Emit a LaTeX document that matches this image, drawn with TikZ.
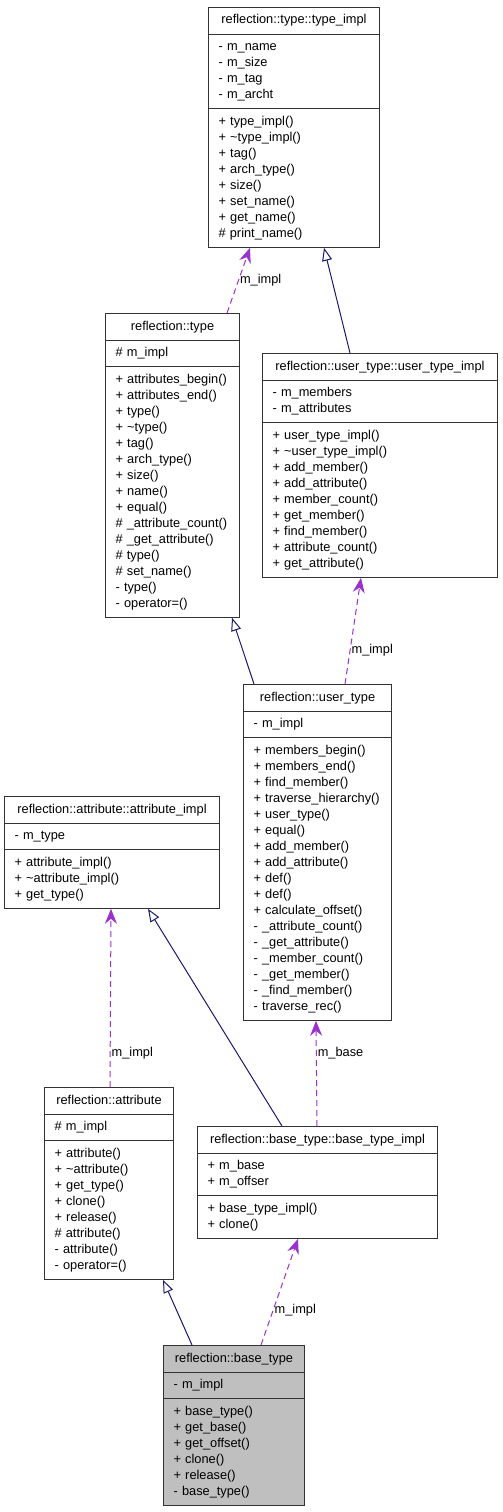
\documentclass[tikz,border=0pt]{standalone}
\usepackage{fontspec}
\setmainfont{Liberation Sans}
\usetikzlibrary{arrows.meta,shapes.multipart}
\definecolor{edgenavy}{HTML}{191970}
\definecolor{edgeorchid}{HTML}{9A32CD}
\definecolor{focusgray}{HTML}{BFBFBF}
\newcommand{\umlfont}{\fontsize{12.8}{16}\selectfont\hyphenpenalty=10000\relax}
\newcommand{\cpart}[1]{\strut#1\strut}
\newcommand{\ctitle}[1]{\strut\makebox[\hsize][c]{#1}\strut}

\begin{document}
\begin{tikzpicture}[x=1pt,y=-1pt,font=\umlfont,
  cls/.style={rectangle split,rectangle split parts=3,draw=black!80,line width=1pt,fill=white,
    inner xsep=10pt,inner ysep=4.8pt,align=left,anchor=north west},
  focus/.style={cls,fill=focusgray},
  inh/.style={draw=edgenavy,line width=1pt,-{Triangle[open,length=13pt,width=10pt,fill=white]}},
  coll/.style={draw=edgeorchid,line width=1pt,dash pattern=on 6pt off 4pt,-{Stealth[length=15pt,width=12pt,inset=5pt]}},
  lbl/.style={anchor=west,inner sep=1pt}]
\useasboundingbox (0,0) rectangle (503,1512);
\node[cls,text width=151pt] (tyimpl) at (208,7) {\ctitle{reflection::type::type\_impl}
  \nodepart{two}\cpart{- m\_name\\- m\_size\\- m\_tag\\- m\_archt}
  \nodepart{three}\cpart{+ type\_impl()\\+ \textasciitilde type\_impl()\\+ tag()\\+ arch\_type()\\+ size()\\+ set\_name()\\+ get\_name()\\\# print\_name()}};
\node[cls,text width=114pt] (ty) at (105,313) {\ctitle{reflection::type}
  \nodepart{two}\cpart{\# m\_impl}
  \nodepart{three}\cpart{+ attributes\_begin()\\+ attributes\_end()\\+ type()\\+ \textasciitilde type()\\+ tag()\\+ arch\_type()\\+ size()\\+ name()\\+ equal()\\\# \_attribute\_count()\\\# \_get\_attribute()\\\# type()\\\# set\_name()\\- type()\\- operator=()}};
\node[cls,text width=215pt] (utimpl) at (262,353) {\ctitle{reflection::user\_type::user\_type\_impl}
  \nodepart{two}\cpart{- m\_members\\- m\_attributes}
  \nodepart{three}\cpart{+ user\_type\_impl()\\+ \textasciitilde user\_type\_impl()\\+ add\_member()\\+ add\_attribute()\\+ member\_count()\\+ get\_member()\\+ find\_member()\\+ attribute\_count()\\+ get\_attribute()}};
\node[cls,text width=128pt] (uty) at (243,684) {\ctitle{reflection::user\_type}
  \nodepart{two}\cpart{- m\_impl}
  \nodepart{three}\cpart{+ members\_begin()\\+ members\_end()\\+ find\_member()\\+ traverse\_hierarchy()\\+ user\_type()\\+ equal()\\+ add\_member()\\+ add\_attribute()\\+ def()\\+ def()\\+ calculate\_offset()\\- \_attribute\_count()\\- \_get\_attribute()\\- \_member\_count()\\- \_get\_member()\\- \_find\_member()\\- traverse\_rec()}};
\node[cls,text width=195pt] (atimpl) at (4,796) {\ctitle{reflection::attribute::attribute\_impl}
  \nodepart{two}\cpart{- m\_type}
  \nodepart{three}\cpart{+ attribute\_impl()\\+ \textasciitilde attribute\_impl()\\+ get\_type()}};
\node[cls,text width=109pt] (attr) at (44,1087) {\ctitle{reflection::attribute}
  \nodepart{two}\cpart{\# m\_impl}
  \nodepart{three}\cpart{+ attribute()\\+ \textasciitilde attribute()\\+ get\_type()\\+ clone()\\+ release()\\\# attribute()\\- attribute()\\- operator=()}};
\node[cls,text width=220pt] (btimpl) at (197,1126) {\ctitle{reflection::base\_type::base\_type\_impl}
  \nodepart{two}\cpart{+ m\_base\\+ m\_offser}
  \nodepart{three}\cpart{+ base\_type\_impl()\\+ clone()}};
\node[focus,text width=121pt] (bty) at (163,1345) {\ctitle{reflection::base\_type}
  \nodepart{two}\cpart{- m\_impl}
  \nodepart{three}\cpart{+ base\_type()\\+ get\_base()\\+ get\_offset()\\+ clone()\\+ release()\\- base\_type()}};
\draw[coll] ([xshift=122pt]ty.north west) -- node[lbl,pos=.5]{m\_impl} ([xshift=42pt]tyimpl.south west);
\draw[inh] ([xshift=88pt]utimpl.north west) -- ([xshift=116pt]tyimpl.south west);
\draw[inh] ([xshift=11pt]uty.north west) -- ([xshift=127pt]ty.south west);
\draw[coll] ([xshift=102pt]uty.north west) -- node[lbl,pos=.32]{m\_impl} ([xshift=99pt]utimpl.south west);
\draw[inh] ([xshift=85pt]btimpl.north west) -- ([xshift=144pt]atimpl.south west);
\draw[coll] ([xshift=120pt]btimpl.north west) -- node[lbl,pos=.69]{m\_base} ([xshift=73pt]uty.south west);
\draw[coll] ([xshift=66pt]attr.north west) -- node[lbl,pos=.19]{m\_impl} ([xshift=107pt]atimpl.south west);
\draw[inh] ([xshift=29pt]bty.north west) -- ([xshift=119pt]attr.south west);
\draw[coll] ([xshift=98pt]bty.north west) -- node[lbl,pos=.33]{m\_impl} ([xshift=101pt]btimpl.south west);
\end{tikzpicture}
\end{document}
